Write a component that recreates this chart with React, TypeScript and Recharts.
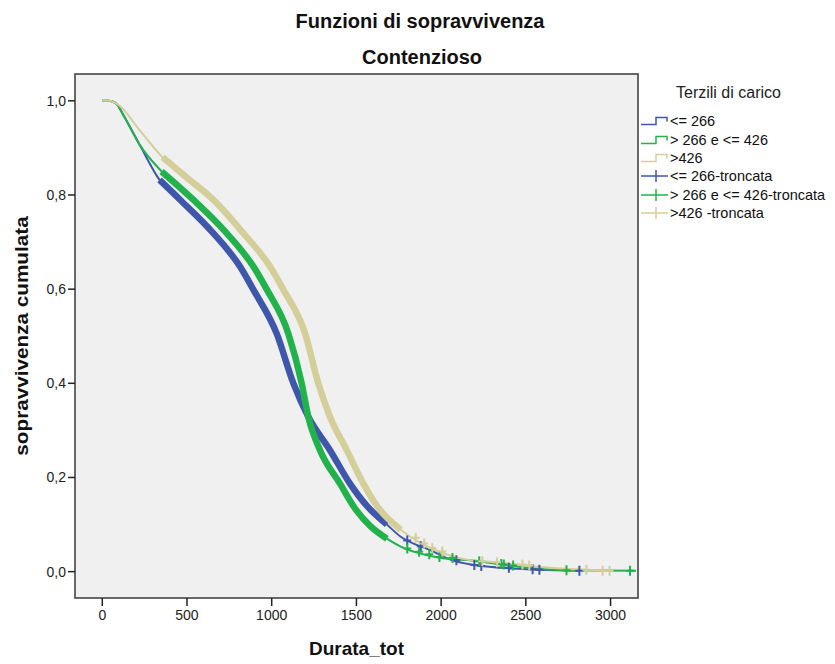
import React from "react";
import { ComposedChart, Line, Scatter, XAxis, YAxis, ReferenceArea } from "recharts";

// Assi
const X_TICKS = [0, 500, 1000, 1500, 2000, 2500, 3000];
const Y_TICKS = [0, 0.2, 0.4, 0.6, 0.8, 1.0];
const X_MIN = -161;
const X_MAX = 3162;
const Y_MIN = -0.056;
const Y_MAX = 1.057;

// Terzili di carico
const GRUPPI = ["<= 266", "> 266 e <= 426", ">426"];
const TRONCATE = ["<= 266-troncata", "> 266 e <= 426-troncata", ">426 -troncata"];
const COLORI = ["#3e57aa", "#22b24c", "#d4ce99"];

// <= 266
const TEMPI_1 = [0, 40, 83, 130, 220, 338, 459, 655, 813, 890, 1029, 1128, 1216, 1344, 1462, 1566, 1680, 1762, 1940, 2058, 2196, 2455, 2580, 2816];
const SOPR_1 = [1, 1, 0.994, 0.966, 0.907, 0.832, 0.79, 0.719, 0.648, 0.6, 0.506, 0.4, 0.329, 0.258, 0.187, 0.138, 0.1, 0.074, 0.045, 0.025, 0.014, 0.006, 0.004, 0.002];

// > 266 e <= 426
const TEMPI_2 = [0, 40, 83, 130, 220, 350, 537, 734, 892, 970, 1098, 1177, 1216, 1285, 1403, 1500, 1584, 1680, 1762, 1981, 2225, 2355, 2740, 3150];
const SOPR_2 = [1, 1, 0.994, 0.966, 0.907, 0.85, 0.79, 0.719, 0.648, 0.6, 0.506, 0.4, 0.329, 0.258, 0.187, 0.13, 0.096, 0.07, 0.053, 0.03, 0.022, 0.015, 0.003, 0.002];

// >426
const TEMPI_3 = [0, 40, 100, 220, 356, 516, 655, 832, 990, 1067, 1197, 1275, 1344, 1443, 1541, 1620, 1762, 1957, 2159, 2330, 2520, 2857, 3000];
const SOPR_3 = [1, 1, 0.99, 0.938, 0.88, 0.832, 0.79, 0.719, 0.648, 0.6, 0.506, 0.4, 0.329, 0.258, 0.187, 0.14, 0.089, 0.047, 0.025, 0.02, 0.012, 0.004, 0.002];

// tratti con osservazioni troncate dense (inizio, fine)
const FITTO_1 = [338, 1680];
const FITTO_2 = [350, 1680];
const FITTO_3 = [356, 1762];

// troncate sparse nella coda
const CENS_T_1 = [1800, 1880, 2090, 2196, 2237, 2400, 2540, 2580, 2816];
const CENS_S_1 = [0.066, 0.054, 0.024, 0.014, 0.012, 0.008, 0.005, 0.004, 0.002];
const CENS_T_2 = [1800, 1870, 1930, 1990, 2067, 2225, 2355, 2370, 2425, 2740, 3115];
const CENS_S_2 = [0.049, 0.042, 0.037, 0.031, 0.029, 0.022, 0.016, 0.015, 0.013, 0.003, 0.002];
const CENS_T_3 = [1850, 1900, 1948, 2007, 2243, 2330, 2480, 2520, 2857, 2953, 2994];
const CENS_S_3 = [0.072, 0.06, 0.05, 0.043, 0.022, 0.02, 0.015, 0.013, 0.004, 0.002, 0.002];

const serie = (t: number[], s: number[]) => t.map((v, i) => ({ t: v, s: s[i] }));
const tratto = (rows: { t: number; s: number }[], r: number[]) => rows.filter(d => d.t >= r[0] && d.t <= r[1]);

const DATI = [serie(TEMPI_1, SOPR_1), serie(TEMPI_2, SOPR_2), serie(TEMPI_3, SOPR_3)];
const FITTI = [tratto(DATI[0], FITTO_1), tratto(DATI[1], FITTO_2), tratto(DATI[2], FITTO_3)];
const CENS = [serie(CENS_T_1, CENS_S_1), serie(CENS_T_2, CENS_S_2), serie(CENS_T_3, CENS_S_3)];

const FONT = "'Liberation Sans', Arial, sans-serif";
const virgola = (v: number) => v.toFixed(1).replace(".", ",");

function croce(colore: string) {
  return (p: any) => (
    <path
      d={`M${p.cx - 4},${p.cy}H${p.cx + 4}M${p.cx},${p.cy - 5}V${p.cy + 5}`}
      stroke={colore}
      strokeWidth={2}
      fill="none"
    />
  );
}

function IconaScala({ colore }: { colore: string }) {
  return (
    <svg width={28} height={10} style={{ display: "block" }}>
      <path d="M0,8.5H15V1.5H26V5.5" stroke={colore} strokeWidth={1.5} fill="none" />
    </svg>
  );
}

function IconaCroce({ colore }: { colore: string }) {
  return (
    <svg width={28} height={14} style={{ display: "block" }}>
      <path d="M0,7H27M15,1V13" stroke={colore} strokeWidth={1.5} fill="none" />
    </svg>
  );
}

export default function App() {
  const voci = [
    ...GRUPPI.map((g, i) => ({ nome: g, colore: COLORI[i], tipo: "scala" })),
    ...TRONCATE.map((g, i) => ({ nome: g, colore: COLORI[i], tipo: "croce" })),
  ];

  return (
    <div style={{ position: "absolute", left: 0, top: 0, width: 835, height: 664, background: "#fff", fontFamily: FONT, color: "#111" }}>
      <div style={{ position: "absolute", left: 0, width: 840, top: 9, textAlign: "center", fontSize: 20, fontWeight: "bold", lineHeight: "24px" }}>
        Funzioni di sopravvivenza
      </div>
      <div style={{ position: "absolute", left: 0, width: 844, top: 45, textAlign: "center", fontSize: 20, fontWeight: "bold", lineHeight: "24px" }}>
        Contenzioso
      </div>

      <ComposedChart width={835} height={664} margin={{ top: 74, right: 197, bottom: 0, left: 0 }}>
        <XAxis
          type="number"
          dataKey="t"
          domain={[X_MIN, X_MAX]}
          ticks={X_TICKS}
          allowDataOverflow
          height={66}
          tickSize={8}
          tickMargin={4}
          axisLine={false}
          tickLine={{ stroke: "#222", strokeWidth: 1.5 }}
          tick={{ fill: "#222", fontSize: 14, fontFamily: FONT }}
        />
        <YAxis
          type="number"
          dataKey="s"
          domain={[Y_MIN, Y_MAX]}
          ticks={Y_TICKS}
          allowDataOverflow
          width={75}
          tickSize={7}
          tickMargin={2}
          axisLine={false}
          tickLine={{ stroke: "#222", strokeWidth: 1.5 }}
          tick={{ fill: "#222", fontSize: 14, fontFamily: FONT }}
          tickFormatter={virgola}
        />
        <ReferenceArea x1={X_MIN} x2={X_MAX} y1={Y_MIN} y2={Y_MAX} fill="#f0f0f0" fillOpacity={1} stroke="#3a3a3a" strokeWidth={1.5} ifOverflow="visible" />

        {DATI.map((d, i) => (
          <Line key={`l${i}`} data={d} dataKey="s" type="monotoneX" stroke={COLORI[i]} strokeWidth={2} dot={false} isAnimationActive={false} />
        ))}
        {FITTI.map((d, i) => (
          <Line key={`f${i}`} data={d} dataKey="s" type="monotoneX" stroke={COLORI[i]} strokeWidth={6.5} strokeLinejoin="round" dot={false} isAnimationActive={false} />
        ))}
        {CENS.map((d, i) => (
          <Scatter key={`c${i}`} data={d} dataKey="s" shape={croce(COLORI[i])} isAnimationActive={false} />
        ))}
      </ComposedChart>

      <div style={{ position: "absolute", left: 0, top: 336, width: 0, height: 0 }}>
        <div style={{ position: "absolute", left: 22, top: 0, transform: "translate(-50%, -50%) rotate(-90deg) scaleX(1.15)", whiteSpace: "nowrap", fontSize: 18, fontWeight: "bold" }}>
          sopravvivenza cumulata
        </div>
      </div>
      <div style={{ position: "absolute", left: 75, width: 563, top: 637, textAlign: "center", fontSize: 19, fontWeight: "bold", lineHeight: "24px" }}>
        Durata_tot
      </div>

      <div style={{ position: "absolute", left: 676, top: 83, fontSize: 16, lineHeight: "20px", color: "#222" }}>
        Terzili di carico
      </div>
      <div style={{ position: "absolute", left: 641, top: 112 }}>
        {voci.map((v, i) => (
          <div key={i} style={{ display: "flex", alignItems: "center", height: 18.4, fontSize: 14.5, color: "#111", whiteSpace: "nowrap" }}>
            {v.tipo === "scala" ? <IconaScala colore={v.colore} /> : <IconaCroce colore={v.colore} />}
            <span style={{ marginLeft: 1 }}>{v.nome}</span>
          </div>
        ))}
      </div>
    </div>
  );
}
